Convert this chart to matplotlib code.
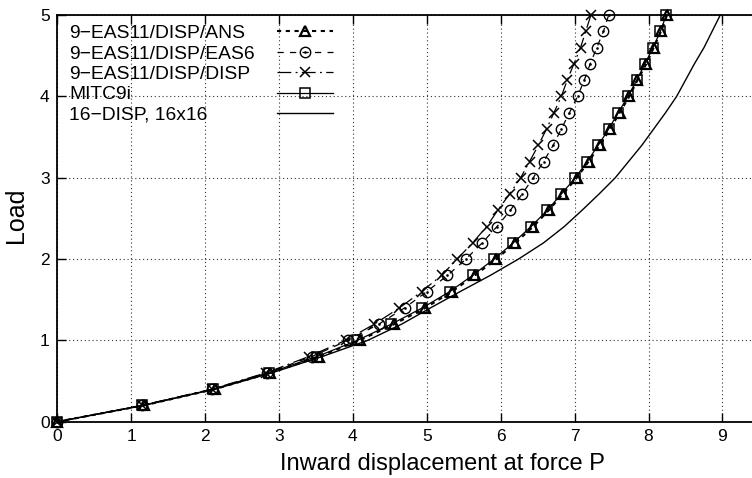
import matplotlib
matplotlib.use('Agg')
import matplotlib.pyplot as plt
from matplotlib.path import Path

plt.rcParams['font.family'] = ['Liberation Sans', 'DejaVu Sans']

# Load levels (y values)
load = [0.0, 0.2, 0.4, 0.6, 0.8, 1.0, 1.2, 1.4, 1.6, 1.8, 2.0, 2.2, 2.4,
        2.6, 2.8, 3.0, 3.2, 3.4, 3.6, 3.8, 4.0, 4.2, 4.4, 4.6, 4.8, 5.0]

# Inward displacement at force P for each series
eas11_ans = [0.0, 1.17, 2.13, 2.88, 3.54, 4.09, 4.56, 4.98, 5.34, 5.65, 5.94, 6.20, 6.44,
             6.65, 6.84, 7.03, 7.19, 7.34, 7.48, 7.61, 7.74, 7.85, 7.97, 8.07, 8.17, 8.25]
eas11_eas6 = [0.0, 1.15, 2.10, 2.84, 3.44, 3.93, 4.35, 4.70, 5.00, 5.28, 5.53, 5.75, 5.95,
              6.13, 6.29, 6.44, 6.58, 6.71, 6.82, 6.93, 7.04, 7.13, 7.21, 7.30, 7.39, 7.46]
eas11_disp = [0.0, 1.14, 2.09, 2.82, 3.40, 3.90, 4.29, 4.63, 4.93, 5.20, 5.41, 5.62, 5.81,
              5.96, 6.12, 6.27, 6.39, 6.51, 6.62, 6.72, 6.82, 6.90, 6.99, 7.08, 7.15, 7.22]
mitc9i = [0.0, 1.15, 2.11, 2.86, 3.51, 4.06, 4.52, 4.94, 5.31, 5.62, 5.91, 6.17, 6.41,
          6.63, 6.82, 7.01, 7.17, 7.32, 7.46, 7.59, 7.72, 7.84, 7.95, 8.06, 8.16, 8.24]
disp16 = [0.0, 1.17, 2.13, 2.90, 3.58, 4.20, 4.66, 5.05, 5.45, 5.86, 6.24, 6.58, 6.86,
          7.10, 7.33, 7.55, 7.73, 7.91, 8.07, 8.23, 8.38, 8.50, 8.62, 8.75, 8.86, 8.97]

labels = ['9\u2212EAS11/DISP/ANS', '9\u2212EAS11/DISP/EAS6', '9\u2212EAS11/DISP/DISP',
          'MITC9i', '16\u2212DISP, 16x16']
xticks = [0, 1, 2, 3, 4, 5, 6, 7, 8, 9]
yticks = [0, 1, 2, 3, 4, 5]

W, H = 752, 478
fig = plt.figure(figsize=(W / 100, H / 100), dpi=100)
x0, y0, ux, uy = 57.3, 421.7, 73.9, 81.3
xmax = 9.5
ax = fig.add_axes([x0 / W, (H - y0) / H, xmax * ux / W, 5 * uy / H])
ax.set_xlim(0, xmax)
ax.set_ylim(0, 5)

circ_dot = Path.make_compound_path(Path.unit_circle(), Path.circle((0, 0), 0.12))

h1, = ax.plot(eas11_ans, load, color='black', lw=1.5, dashes=(2.0, 2.2),
              marker='^', ms=7, mfc='none', mew=1.6, clip_on=False, zorder=5)
h2, = ax.plot(eas11_eas6, load, color='black', lw=0.9, dashes=(5, 5),
              marker=circ_dot, ms=7.5, mfc='none', mew=1.0, clip_on=False, zorder=4)
h3, = ax.plot(eas11_disp, load, color='black', lw=0.9, dashes=(11, 3.5, 1.5, 3.5),
              marker='x', ms=7.5, mew=1.1, clip_on=False, zorder=4)
h4, = ax.plot(mitc9i, load, color='black', lw=0.9, ls='-',
              marker='s', ms=7, mfc='none', mew=1.1, clip_on=False, zorder=4)
h5, = ax.plot(disp16, load, color='black', lw=1.0, ls='-', clip_on=False, zorder=3,
              solid_joinstyle='round')

ax.set_xticks(xticks)
ax.set_yticks(yticks)
ax.grid(True, ls=(0, (1, 2.5)), color='0.2', lw=0.8)
ax.tick_params(direction='in', length=6.5, width=1.0, top=True, right=False,
               labelsize=12.5, pad=5.5, colors='black')
for s in ax.spines.values():
    s.set_linewidth(1.3)

ax.set_xlabel('Inward displacement at force P', fontsize=17)
ax.set_ylabel('Load', fontsize=18)
axw = xmax * ux
axh = 5 * uy
ax.xaxis.set_label_coords((442 - x0) / axw, -(453.2 - y0) / axh)
ax.yaxis.set_label_coords((28.3 - x0) / axw, (y0 - 215) / axh)

leg = ax.legend([h1, h2, h3, h4, h5], labels, loc='upper left',
                bbox_to_anchor=((69 - x0) / axw, 1 - 9.5 / axh),
                frameon=False, fontsize=13.9, markerfirst=False, numpoints=1,
                handlelength=2.9, borderpad=0, borderaxespad=0,
                labelspacing=0.15, handletextpad=0.5)
row_w = 264
for col in leg._legend_handle_box.get_children():
    for row in col.get_children():
        row.mode = 'expand'
        row.width = row_w

fig.savefig('out.png', dpi=100)
